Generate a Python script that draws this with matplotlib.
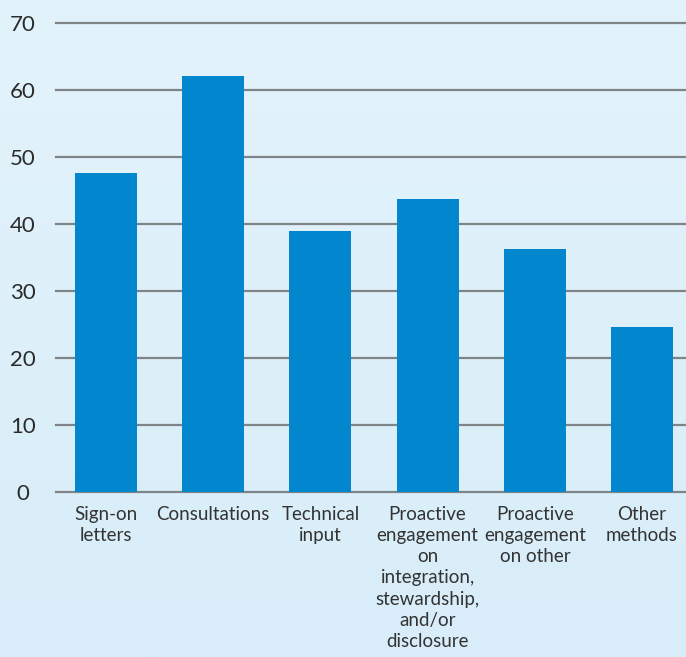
import numpy as np
import matplotlib
matplotlib.use("Agg")
import matplotlib.pyplot as plt
from matplotlib.colors import LinearSegmentedColormap

categories = ["Sign-on\nletters", "Consultations", "Technical\ninput",
              "Proactive\nengagement\non\nintegration,\nstewardship,\nand/or\ndisclosure",
              "Proactive\nengagement\non other", "Other\nmethods"]
values = [47.6, 62.1, 39.0, 43.7, 36.3, 24.6]
yticks = [0, 10, 20, 30, 40, 50, 60, 70]

plt.rcParams['font.family'] = ['Lato', 'DejaVu Sans']

fig = plt.figure(figsize=(6.86, 6.57), dpi=100)
# background gradient
bg = fig.add_axes([0, 0, 1, 1], zorder=-10)
cmap = LinearSegmentedColormap.from_list("bg", ["#e3f3fb", "#d8edf9"])
grad = np.linspace(0, 1, 256).reshape(-1, 1)
bg.imshow(grad, aspect='auto', cmap=cmap, extent=[0, 1, 0, 1], origin='upper')
bg.axis('off')

ax = fig.add_axes([56/686, 1 - 492/657, 1 - 56/686, (492 - 23)/657])
ax.patch.set_alpha(0)
x = np.arange(len(categories))
ax.bar(x, values, width=0.58, color="#0287cf", zorder=3)
ax.set_ylim(0, 70)
ax.set_xlim(-0.466, 5.41)
ax.set_yticks(yticks)
ax.set_yticklabels([str(v) for v in yticks], ha='center', fontsize=16, color="#2b2b2b")
ax.tick_params(axis='y', length=0, pad=24)
ax.set_xticks(x)
ax.set_xticklabels(categories, fontsize=13.5, color="#333333", linespacing=1.3)
ax.tick_params(axis='x', length=0, pad=10)
for v in yticks:
    ax.axhline(v, color="#7f8487", lw=1.6, zorder=2, clip_on=False)
for s in ax.spines.values():
    s.set_visible(False)

fig.savefig("out.png", dpi=100)
